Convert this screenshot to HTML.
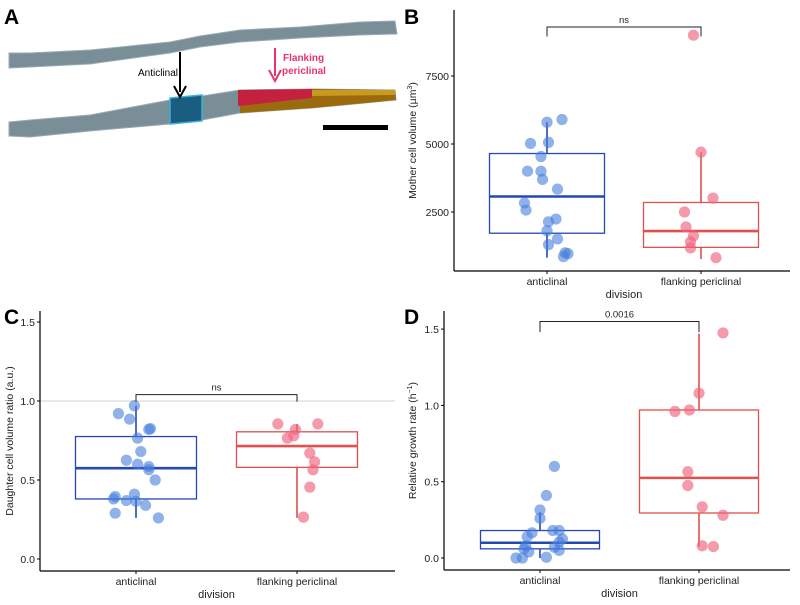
<!DOCTYPE html>
<html><head><meta charset="utf-8"><style>
body{margin:0;background:#fff;width:800px;height:605px;overflow:hidden}
svg{font-family:"Liberation Sans",sans-serif;display:block}
</style></head><body>
<svg id="fig" width="800" height="605" viewBox="0 0 800 605" xmlns="http://www.w3.org/2000/svg">
<g id="panelA">
  <text x="4" y="24" font-size="21" font-weight="bold">A</text>
  <path d="M9,53 L30,53 L90,50 L170,42 L200,36 L240,30 L300,27 L360,22 L395,21 L397,34 L360,35 L300,38 L240,42 L200,47 L170,53 L90,64 L30,67 L9,68 Z" fill="#7a8e97" stroke="#9aabb2" stroke-width="1"/>
  <path d="M9,122 L30,120 L90,115 L170,100 L202,96 L240,90 L312,89 L395,90 L396,100 L312,108 L240,113 L202,120 L170,124 L90,131 L30,137 L9,136 Z" fill="#7a8e97" stroke="#9aabb2" stroke-width="1"/>
  <path d="M170,98 L202,95 L202,121 L170,124 Z" fill="#1b5d80" stroke="#39b4d8" stroke-width="1.5"/>
  <path d="M238,90 L312,89 L312,98 L240,106 L238,106 Z" fill="#c4213f"/>
  <path d="M240,106 L312,98 L312,89 L395,90 L396,100 L312,108 L240,113 Z" fill="#9a6a0c"/>
  <path d="M312,90 L395,90 L395,95 L312,96 Z" fill="#c99a20"/>
  <line x1="180" y1="52" x2="180" y2="92" stroke="#000" stroke-width="2"/>
  <path d="M174,86 L180,97 L186,86" fill="none" stroke="#000" stroke-width="2"/>
  <text x="138" y="76" font-size="10">Anticlinal</text>
  <line x1="275" y1="48" x2="275" y2="76" stroke="#e8336b" stroke-width="2"/>
  <path d="M269,70 L275,81 L281,70" fill="none" stroke="#e8336b" stroke-width="2"/>
  <text x="283" y="61" font-size="10" font-weight="bold" fill="#e8336b">Flanking</text>
  <text x="282" y="74" font-size="10" font-weight="bold" fill="#e8336b">periclinal</text>
  <rect x="323" y="125" width="65" height="5" fill="#000"/>
</g>
</svg>
<script>
// Panel B data
const bCats = ["anticlinal", "flanking periclinal"];
const bTicks = [2500, 5000, 7500];
const bAntiVals = [5800,5900,5020,5060,4540,4000,4000,3700,3340,2830,2570,2140,2240,1810,1510,1300,1000,860,970];
const bAntiJit = [0,0.10,-0.11,0.01,-0.04,-0.13,-0.04,-0.03,0.07,-0.15,-0.14,0.01,0.06,0,0.07,0.01,0.12,0.11,0.14];
const bFlankVals = [9000,4700,3010,2500,1950,1620,1400,1180,820];
const bFlankJit = [-0.05,0,0.08,-0.11,-0.1,-0.05,-0.07,-0.07,0.10];
const bBoxAnti = [820,1720,3070,4650,5800];
const bBoxFlank = [770,1200,1800,2850,4700];
// Panel C data
const cTicks = [0.0, 0.5, 1.0, 1.5];
const cAntiVals = [0.97,0.92,0.885,0.82,0.825,0.765,0.68,0.625,0.60,0.585,0.565,0.50,0.41,0.395,0.38,0.37,0.365,0.34,0.29,0.26];
const cAntiJit = [-0.01,-0.11,-0.04,0.08,0.09,0.01,0.03,-0.06,0.01,0.08,0.08,0.12,-0.01,-0.13,-0.14,-0.06,0,0.06,-0.13,0.14];
const cFlankVals = [0.855,0.855,0.82,0.78,0.765,0.67,0.615,0.565,0.455,0.265];
const cFlankJit = [-0.12,0.13,-0.01,-0.02,-0.06,0.08,0.11,0.10,0.08,0.04];
const cBoxAnti = [0.26,0.38,0.575,0.775,0.97];
const cBoxFlank = [0.26,0.58,0.715,0.805,0.855];
// Panel D data
const dTicks = [0.0, 0.5, 1.0, 1.5];
const dAntiVals = [0.60,0.41,0.315,0.26,0.18,0.18,0.165,0.14,0.125,0.105,0.08,0.06,0.07,0.05,0.04,0.005,0.0,0.0];
const dAntiJit = [0.09,0.04,0,0,0.08,0.12,-0.05,-0.08,0.14,0.12,-0.09,-0.1,0.09,0.12,-0.07,0.04,-0.15,-0.11];
const dFlankVals = [1.475,1.08,0.96,0.97,0.565,0.475,0.335,0.28,0.08,0.075];
const dFlankJit = [0.15,0,-0.15,-0.06,-0.07,-0.07,0.02,0.15,0.02,0.09];
const dBoxAnti = [0.0,0.06,0.10,0.18,0.30];
const dBoxFlank = [0.075,0.295,0.525,0.97,1.47];

const NS='http://www.w3.org/2000/svg';
const svg=document.getElementById('fig');
function mk(tag,attrs,parent,text){const e=document.createElementNS(NS,tag);for(const k in attrs)e.setAttribute(k,attrs[k]);if(text!==undefined)e.textContent=text;(parent||svg).appendChild(e);return e;}

function panel(o){
  const g=mk('g',{});
  
  
  const y=v=>o.y0+(v-o.v0)*(o.y1-o.y0)/(o.v1-o.v0);
  const x=(c,j)=>o.cx[c]+j*o.catW;
  const lbl=mk('text',{x:o.lx,y:o.ly,'font-size':21,'font-weight':'bold'},g,o.letter);
  
  
  if(o.refLine!==undefined){
    const rl=mk('line',{x1:o.ax,x2:o.axEnd,y1:y(o.refLine),y2:y(o.refLine),stroke:'#d3dcdc','stroke-width':1.2},g);
    
    
  }
  const ya=mk('line',{x1:o.ax,x2:o.ax,y1:o.top,y2:o.bot,stroke:'#000','stroke-width':1.2},g);
  
  
  const xa=mk('line',{x1:o.ax,x2:o.axEnd,y1:o.bot,y2:o.bot,stroke:'#000','stroke-width':1.2},g);
  
  
  o.ticks.forEach(t=>{
    mk('line',{x1:o.ax-3,x2:o.ax,y1:y(t),y2:y(t),stroke:'#000'},g);
    const tl=mk('text',{x:o.ax-5,y:y(t)+4,'font-size':10.5,'text-anchor':'end',fill:'#222'},g,o.fmt(t));
    
    
  });
  o.cats.forEach((c,i)=>{
    mk('line',{x1:o.cx[i],x2:o.cx[i],y1:o.bot,y2:o.bot+3,stroke:'#000'},g);
    const cl=mk('text',{x:o.cx[i],y:o.bot+14,'font-size':10.5,'text-anchor':'middle',fill:'#222'},g,c);
    
    
  });
  const xt=mk('text',{x:(o.cx[0]+o.cx[1])/2,y:o.bot+27,'font-size':11,'text-anchor':'middle',fill:'#222'},g,'division');
  
  
  const yt=mk('text',{x:0,y:0,'font-size':10.5,'text-anchor':'middle',fill:'#222',transform:`translate(${o.ytx},${(o.top+o.bot)/2}) rotate(-90)`},g);
  yt.innerHTML=o.ytitle;
  
  
  const cols=[{box:'#2448b4',pt:'rgba(70,125,220,0.6)'},{box:'#e0504c',pt:'rgba(240,100,125,0.65)'}];
  [o.boxA,o.boxF].forEach((b,i)=>{
    const cx=o.cx[i], hw=o.boxW/2, c=cols[i].box;
    const w1=mk('line',{x1:cx,x2:cx,y1:y(b[0]),y2:y(b[1]),stroke:c,'stroke-width':1.6},g);
    
    
    const w2=mk('line',{x1:cx,x2:cx,y1:y(b[3]),y2:y(b[4]),stroke:c,'stroke-width':1.6},g);
    
    
    const r=mk('rect',{x:cx-hw,y:y(b[3]),width:o.boxW,height:y(b[1])-y(b[3]),fill:'none',stroke:c,'stroke-width':1.3},g);
    
    
    const m=mk('line',{x1:cx-hw,x2:cx+hw,y1:y(b[2]),y2:y(b[2]),stroke:c,'stroke-width':2.6},g);
    
    
  });
  [[o.av,o.aj],[o.fv,o.fj]].forEach((s,i)=>{
    s[0].forEach((v,k)=>{
      const p=mk('circle',{cx:x(i,s[1][k]),cy:y(v),r:5.6,fill:cols[i].pt},g);
      
      
    });
  });
  const by=y(o.brY), bt=y(o.brTick);
  const br=mk('path',{d:`M${o.cx[0]},${bt} L${o.cx[0]},${by} L${o.cx[1]},${by} L${o.cx[1]},${bt}`,fill:'none',stroke:'#222','stroke-width':1},g);
  
  
  const bl=mk('text',{x:(o.cx[0]+o.cx[1])/2,y:by-4,'font-size':9.5,'text-anchor':'middle',fill:'#222'},g,o.brLabel);
  
  
}
const f1=t=>t.toFixed(1);
panel({name:'panel-b-mother-cell-volume',letter:'B',lx:404,ly:24,ax:454,axEnd:790,top:10,bot:271,y0:212,v0:2500,y1:144,v1:5000,
  ticks:bTicks,fmt:t=>String(t),cats:bCats,cx:[547,701],catW:150,boxW:115,ytx:416,
  ytitle:'Mother cell volume (µm<tspan dy="-4" font-size="7">3</tspan><tspan dy="4">)</tspan>',
  boxA:bBoxAnti,boxF:bBoxFlank,av:bAntiVals,aj:bAntiJit,fv:bFlankVals,fj:bFlankJit,brY:9300,brTick:8950,brLabel:'ns'});
panel({name:'panel-c-daughter-volume-ratio',letter:'C',lx:4,ly:324,ax:40,axEnd:395,top:311,bot:571,y0:559,v0:0,y1:480,v1:0.5,
  ticks:cTicks,fmt:f1,cats:bCats,cx:[136,297],catW:160,boxW:121,ytx:13,refLine:1.0,
  ytitle:'Daughter cell volume ratio (a.u.)',
  boxA:cBoxAnti,boxF:cBoxFlank,av:cAntiVals,aj:cAntiJit,fv:cFlankVals,fj:cFlankJit,brY:1.04,brTick:0.995,brLabel:'ns'});
panel({name:'panel-d-relative-growth-rate',letter:'D',lx:404,ly:324,ax:444,axEnd:790,top:311,bot:570,y0:558,v0:0,y1:481.7,v1:0.5,
  ticks:dTicks,fmt:f1,cats:bCats,cx:[540,699],catW:160,boxW:119,ytx:416,
  ytitle:'Relative growth rate (h<tspan dy="-4" font-size="7">−1</tspan><tspan dy="4">)</tspan>',
  boxA:dBoxAnti,boxF:dBoxFlank,av:dAntiVals,aj:dAntiJit,fv:dFlankVals,fj:dFlankJit,brY:1.55,brTick:1.48,brLabel:'0.0016'});
</script>
</body></html>
